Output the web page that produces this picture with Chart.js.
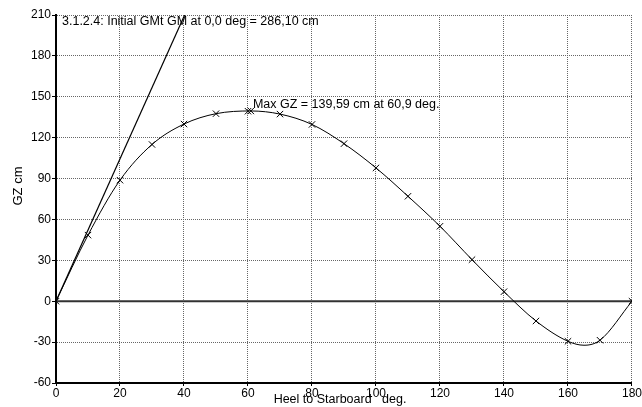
<!DOCTYPE html>
<html><head><meta charset="utf-8">
<script src="https://cdn.jsdelivr.net/npm/chart.js@4.4.0/dist/chart.umd.min.js"></script>
<style>html,body{margin:0;padding:0;background:#fff}#wrap{width:642px;height:407px}</style>
</head><body><div id="wrap"><canvas id="c" width="642" height="407"></canvas></div>
<script>
const markerHeel = [0,10,20,30,40,50,60,60.9,70,80,90,100,110,120,130,140,150,160,170,180];
const markerGZ   = [0,48.5,88.8,115,130,137.6,139.4,139.59,137.3,129.7,115.6,97.8,77,55,30.5,7,-14.5,-29.4,-28.6,0];
const curveHeel  = [0,10,20,30,40,50,60.9,70,80,90,100,110,120,130,140,150,160,165,170,180];
const curveGZ    = [0,48.5,88.8,115,130,137.6,139.59,137.3,129.7,115.6,97.8,77,55,30.5,7,-14.5,-29.4,-32.3,-28.6,0];
const gmHeel = [0,40.2];
const gmGZ   = [0,210];
const xTicks = [0,20,40,60,80,100,120,140,160,180];
const yTicks = [-60,-30,0,30,60,90,120,150,180,210];
const gmLabel = "3.1.2.4: Initial GMt GM at 0,0 deg = 286,10 cm";
const maxLabel = "Max GZ = 139,59 cm at 60,9 deg.";
const xTitle = "Heel to Starboard   deg.";
const yTitle = "GZ cm";

const FONT = "'Liberation Sans', Arial, sans-serif";
const toXY = (xs, ys) => xs.map((x, i) => ({x, y: ys[i]}));

const overlay = {
  id: 'overlay',
  beforeDatasetsDraw(chart) {
    const {ctx, chartArea: a, scales: {x, y}} = chart;
    ctx.save();
    const y0 = y.getPixelForValue(0);
    ctx.strokeStyle = '#333'; ctx.lineWidth = 2;
    ctx.beginPath(); ctx.moveTo(a.left, y0); ctx.lineTo(a.right, y0); ctx.stroke();
    ctx.restore();
  },
  afterDraw(chart) {
    const {ctx, chartArea: a, scales: {x, y}} = chart;
    ctx.save();
    ctx.fillStyle = '#000';
    ctx.font = '12.5px ' + FONT;
    ctx.textBaseline = 'middle';
    ctx.textAlign = 'left';
    ctx.fillText(gmLabel, a.left + 6, a.top + 7);
    ctx.fillText(maxLabel, x.getPixelForValue(60.9) + 2, y.getPixelForValue(139.59) - 6);
    ctx.textAlign = 'center';
    ctx.fillText(xTitle, (a.left + a.right) / 2 - 4, 400);
    ctx.translate(18, 186);
    ctx.rotate(-Math.PI / 2);
    ctx.font = '13px ' + FONT;
    ctx.fillText(yTitle, 0, 0);
    ctx.restore();
  }
};

new Chart(document.getElementById('c'), {
  type: 'scatter',
  data: {
    datasets: [
      {data: toXY(curveHeel, curveGZ), showLine: true, borderColor: '#000', borderWidth: 1, pointRadius: 0, tension: 0.4, cubicInterpolationMode: 'monotone', order: 2},
      {data: toXY(markerHeel, markerGZ), showLine: false, pointStyle: 'crossRot', pointRadius: 4.5, borderColor: '#000', borderWidth: 1, order: 1},
      {data: toXY(gmHeel, gmGZ), showLine: true, borderColor: '#000', borderWidth: 1.2, pointRadius: 0, order: 3}
    ]
  },
  options: {
    responsive: false, animation: false, devicePixelRatio: 1,
    layout: {padding: {left: 0, right: 8, top: 15, bottom: 0}},
    plugins: {legend: {display: false}, tooltip: {enabled: false}},
    scales: {
      x: {
        type: 'linear', min: 0, max: 180,
        afterFit(s) { s.height = 24; },
        afterBuildTicks(s) { s.ticks = xTicks.map(v => ({value: v})); },
        ticks: {color: '#000', font: {family: FONT, size: 12}, padding: 0, maxRotation: 0, autoSkip: false},
        grid: {color: '#666', lineWidth: 1, tickLength: 3, tickColor: '#000', tickBorderDash: []},
        border: {color: '#000', width: 2, dash: [1, 1]}
      },
      y: {
        type: 'linear', min: -60, max: 210,
        afterFit(s) { s.width = 56; },
        afterBuildTicks(s) { s.ticks = yTicks.map(v => ({value: v})); },
        ticks: {color: '#000', font: {family: FONT, size: 12}, padding: 1, autoSkip: false},
        grid: {color: '#666', lineWidth: 1, tickLength: 4, tickColor: '#000', tickBorderDash: []},
        border: {color: '#000', width: 2, dash: [1, 1]}
      }
    }
  },
  plugins: [overlay]
});
</script>
</body></html>
